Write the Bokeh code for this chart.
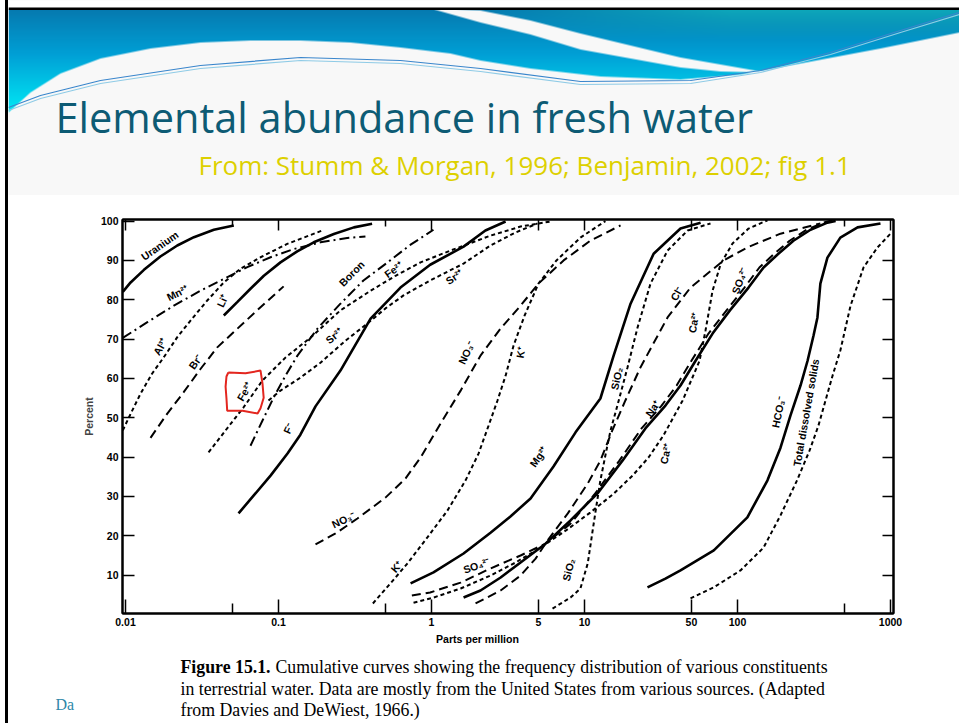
import numpy as np
from bokeh.plotting import figure
from bokeh.layouts import column, row
from bokeh.models import (Range1d, FixedTicker, LinearAxis, LogAxis, CustomJSTickFormatter,
                          Plot, Spacer)
from bokeh.core.properties import value
from bokeh.embed import file_html
from bokeh.resources import INLINE

# ---------------- data (ppm, percent) ----------------
uranium_ppm = [0.0096, 0.0108, 0.0132, 0.0169, 0.0218, 0.028, 0.0378, 0.051]
uranium_pct = [82.0, 84.4, 87.6, 91.0, 93.8, 95.9, 97.8, 98.9]
mn_ppm = [0.0096, 0.0139, 0.0207, 0.0309, 0.0439, 0.0625, 0.0887, 0.126, 0.188, 0.281, 0.370]
mn_pct = [70.3, 74.3, 78.5, 82.3, 85.3, 88.3, 90.8, 92.9, 94.6, 95.7, 96.1]
al_ppm = [0.0096, 0.0108, 0.01253, 0.0149, 0.0178, 0.0218, 0.0266, 0.0342, 0.0439, 0.0565, 0.0763, 0.114, 0.193]
al_pct = [46.8, 51.0, 56.1, 61.2, 65.4, 70.5, 74.7, 79.8, 84.4, 87.9, 90.8, 94.2, 97.6]
li_ppm = [0.0439, 0.0537, 0.0656, 0.0802, 0.103, 0.1325, 0.170, 0.230, 0.311, 0.409]
li_pct = [76.0, 79.4, 82.8, 86.1, 89.5, 92.3, 94.6, 96.7, 98.4, 99.3]
br_ppm = [0.01457, 0.0187, 0.0240, 0.0309, 0.0398, 0.0537, 0.0763, 0.108]
br_pct = [44.9, 51.0, 56.5, 62.4, 67.9, 72.6, 78.1, 83.4]
fe_ppm = [0.0349, 0.0451, 0.059, 0.0786, 0.111, 0.162, 0.254, 0.400, 0.582, 0.848, 1.33, 2.43, 3.82, 6.0]
fe_pct = [41.2, 46.8, 52.6, 59.5, 65.3, 70.4, 77.3, 82.3, 86.1, 89.5, 92.5, 96.3, 98.6, 99.9]
boron_ppm = [0.0656, 0.0786, 0.0928, 0.111, 0.133, 0.180, 0.254, 0.359, 0.516, 0.73, 1.03]
boron_pct = [42.9, 49.3, 55.1, 60.7, 65.8, 72.7, 79.0, 84.9, 89.5, 94.0, 97.8]
sr_ppm = [0.086, 0.103, 0.139, 0.188, 0.274, 0.382, 0.50, 0.656, 0.98, 1.62, 2.43, 3.54, 4.93]
sr_pct = [54.4, 56.9, 60.2, 64.0, 69.6, 74.0, 77.8, 81.1, 84.9, 89.2, 93.8, 97.1, 99.4]
f_ppm = [0.0548, 0.0687, 0.0887, 0.1145, 0.139, 0.1745, 0.254, 0.400, 0.627, 0.98, 1.62, 2.25, 3.05]
f_pct = [25.7, 30.2, 35.3, 40.9, 45.7, 52.9, 62.0, 75.2, 83.1, 88.9, 93.5, 97.6, 99.9]
no3_ppm = [0.1745, 0.236, 0.328, 0.50, 0.677, 0.848, 1.145, 1.55, 2.09, 2.83, 3.82, 5.0, 7.3, 10.9, 17.2]
no3_pct = [17.8, 20.6, 24.4, 29.7, 34.6, 39.9, 48.5, 56.9, 65.8, 72.7, 78.5, 84.1, 90.0, 95.0, 98.9]
k_ppm = [0.414, 0.539, 0.697, 0.94, 1.27, 1.67, 2.03, 2.36, 2.70, 3.05, 3.44, 4.06, 5.0, 6.56, 9.4, 13.7]
k_pct = [2.8, 7.9, 13.0, 19.6, 26.4, 34.1, 40.9, 48.0, 54.4, 60.7, 68.4, 76.0, 84.1, 90.0, 95.8, 100.0]
mg_ppm = [0.73, 1.03, 1.62, 2.43, 3.28, 4.44, 6.27, 8.74, 12.7, 15.5, 20.0, 28.3, 42.4, 57.4]
mg_pct = [7.9, 10.7, 15.5, 20.8, 24.9, 29.5, 37.6, 46.3, 54.9, 65.8, 79.0, 91.7, 98.1, 99.6]
sio2_ppm = [6.18, 8.1, 9.4, 10.5, 11.3, 11.97, 12.7, 13.9, 14.8, 16.4, 19.1, 22.2, 27.0, 34.9, 47.2, 66.6]
sio2_pct = [1.5, 4.3, 6.6, 13.0, 21.3, 27.7, 34.1, 41.7, 46.8, 53.1, 62.8, 72.9, 84.1, 92.5, 97.6, 99.4]
na_ppm = [1.62, 2.09, 2.83, 3.82, 5.56, 8.1, 12.3, 17.7, 25.0, 33.8, 42.4, 53.2, 68.7, 89.2, 118, 148, 185, 232, 300, 387, 438]
na_pct = [4.3, 6.1, 9.4, 13.2, 18.0, 23.9, 31.0, 39.1, 47.3, 53.1, 58.2, 64.5, 71.4, 77.3, 83.1, 88.2, 91.7, 95.0, 97.8, 99.6, 100.0]
so4_ppm = [0.744, 0.98, 1.55, 2.43, 3.82, 5.56, 8.1, 11.6, 16.9, 23.6, 31.9, 40.0, 50.0, 64.6, 84.8, 111, 139, 174, 219, 283, 365, 424]
so4_pct = [4.8, 5.6, 8.1, 11.7, 15.0, 18.0, 23.1, 30.5, 39.1, 47.3, 53.1, 58.2, 64.5, 71.4, 77.3, 83.1, 88.2, 91.7, 95.0, 97.8, 99.6, 100.3]
ca_ppm = [0.763, 1.03, 1.55, 2.43, 3.54, 5.16, 7.52, 10.9, 15.5, 20.6, 26.2, 32.8, 43.8, 56.5, 61.8, 68.7, 77.8, 92.8, 118, 157]
ca_pct = [3.0, 4.3, 6.6, 9.9, 13.2, 17.0, 21.3, 25.9, 30.7, 35.3, 39.9, 45.5, 54.4, 64.5, 72.2, 82.3, 89.2, 94.3, 98.1, 100.2]
cl_ppm = [1.94, 2.83, 3.82, 4.79, 5.73, 7.78, 10.5, 12.7, 15.2, 18.5, 23.2, 34.9, 49.3, 81.1, 116, 191, 348]
cl_pct = [2.8, 6.1, 9.9, 14.2, 18.8, 25.7, 33.3, 39.1, 46.8, 54.4, 62.8, 75.5, 83.1, 90.0, 93.3, 96.8, 99.4]
hco3_ppm = [25.8, 33.8, 42.4, 70.0, 116, 157, 191, 222, 258, 287, 314, 333, 348, 387, 470, 609, 860]
hco3_pct = [6.9, 9.1, 11.2, 16.3, 24.7, 34.1, 42.4, 50.6, 58.2, 64.5, 70.9, 75.5, 84.1, 90.7, 95.8, 98.4, 99.4]
tds_ppm = [49.3, 70.0, 104.6, 148, 191, 245, 296, 338, 376, 418, 470, 548, 666, 822, 1000]
tds_pct = [4.1, 6.9, 11.2, 17.0, 25.2, 34.1, 41.7, 48.0, 54.4, 60.7, 67.1, 78.5, 88.2, 93.3, 96.8]

# hand-drawn red mark around one label
mark_ppm = [0.047, 0.0609, 0.0763, 0.0786, 0.080, 0.0763, 0.073, 0.0582, 0.0462, 0.0457, 0.0451, 0.0457, 0.047]
mark_pct = [61.5, 61.3, 62.0, 58.7, 55.1, 52.4, 51.1, 51.8, 51.8, 54.9, 57.9, 60.5, 61.5]

label_text = ["Uranium", "Mn²⁺", "Al³⁺", "Li⁺", "Br⁻", "Fe²⁺", "Boron", "Fe²⁺", "Sr²⁺", "Sr²⁺",
              "F⁻", "NO₃⁻", "NO₃⁻", "K⁺", "K⁺", "Mg²⁺", "SO₄²⁻", "SiO₂", "SiO₂", "Na⁺",
              "Cl⁻", "Ca²⁺", "Ca²⁺", "SO₄²⁻", "HCO₃⁻", "Total dissolved solids"]
label_ppm = [0.0167, 0.0219, 0.0169, 0.043, 0.0287, 0.060, 0.300, 0.565, 0.231, 1.41,
             0.116, 1.69, 0.266, 3.82, 0.59, 5.0, 1.97, 7.86, 16.2, 27.9,
             40.0, 51.6, 33.8, 103, 185, 280]
label_pct = [93.8, 81.8, 68.1, 79.8, 64.3, 56.7, 86.7, 87.7, 70.9, 85.9,
             47.3, 66.6, 24.1, 66.6, 12.2, 40.2, 12.5, 11.4, 60.0, 52.4,
             81.6, 74.2, 40.9, 84.9, 51.5, 51.3]
label_angle = [35, 27, 60, 65, 55, 60, 45, 35, 40, 35,
               65, 65, 25, 80, 50, 55, 20, 75, 78, 55,
               60, 80, 78, 70, 78, 80]

x_major_ticks = [0.01, 0.1, 1, 5, 10, 50, 100, 1000]
x_minor_ticks = [0.05, 0.5, 500]
y_ticks = [10, 20, 30, 40, 50, 60, 70, 80, 90, 100]
y_right_ticks = [10, 20, 30, 40, 50, 60, 70, 80, 90]

title_text = "Elemental abundance in fresh water"
subtitle_text = "From: Stumm & Morgan, 1996; Benjamin, 2002; fig 1.1"
caption_bold = "Figure 15.1."
caption_lines = ["Cumulative curves showing the frequency distribution of various constituents",
                 "in terrestrial water. Data are mostly from the United States from various sources. (Adapted",
                 "from Davies and DeWiest, 1966.)"]

STYLES = {
    "solid": dict(line_width=2.6),
    "long": dict(line_width=2.0, line_dash="9 5"),
    "short": dict(line_width=2.0, line_dash="4 3"),
    "dashdot": dict(line_width=2.0, line_dash="10 4 2 4"),
}
curves = [
    (uranium_ppm, uranium_pct, "solid"), (mn_ppm, mn_pct, "dashdot"), (al_ppm, al_pct, "short"),
    (li_ppm, li_pct, "solid"), (br_ppm, br_pct, "long"), (fe_ppm, fe_pct, "short"),
    (boron_ppm, boron_pct, "dashdot"), (sr_ppm, sr_pct, "short"), (f_ppm, f_pct, "solid"),
    (no3_ppm, no3_pct, "long"), (k_ppm, k_pct, "short"), (mg_ppm, mg_pct, "solid"),
    (sio2_ppm, sio2_pct, "short"), (na_ppm, na_pct, "solid"), (so4_ppm, so4_pct, "long"),
    (ca_ppm, ca_pct, "short"), (cl_ppm, cl_pct, "long"), (hco3_ppm, hco3_pct, "solid"),
    (tds_ppm, tds_pct, "short"),
]

FA = {"frame_align": False} if "frame_align" in Plot.properties() else {}
W = 951          # slide area: page x 8..959
SLIDE_BG = "#f8f8f8"

# ---------------- header (banner + titles), page-pixel coordinates ----------------
H1 = 195
h = figure(width=W, height=H1, x_range=Range1d(8, 959), y_range=Range1d(-195, 0),
           output_backend="svg", toolbar_location=None, x_axis_location=None, y_axis_location=None,
           min_border=0, outline_line_color=None, background_fill_color=SLIDE_BG,
           border_fill_color=SLIDE_BG, **FA)
h.grid.visible = False

bx = [8, 30, 60, 100, 150, 200, 250, 300, 350, 400, 450, 480, 530, 600, 680, 740, 800, 880, 959]
by = [112, 92, 73, 58, 48, 42, 40, 40, 42, 47, 53, 60, 68, 76, 79, 74, 63, 48, 32]
sx = [430, 480, 530, 580, 630, 680, 720, 760]
su = [8, 10, 20, 33, 45, 57, 64, 71]
sl = [8, 22, 34, 49, 58, 67, 71, 72]
ys = 195 - (np.arange(H1) + 0.5)
xs = 8 + np.arange(W) + 0.5
X, Y = np.meshgrid(xs, ys)
Bnd = np.interp(X, bx, by)
alpha = np.clip(Bnd - Y + 0.5, 0, 1) * (Y > 9)
t = np.clip((Y - 9) / 100.0, 0, 1)
c0 = np.array([6, 122, 176.0]); c1 = np.array([0, 160, 214.0]); c2 = np.array([0, 230, 244.0])
tt = t[..., None]
col = np.where(tt < 0.45, c0 + (c1 - c0) * (tt / 0.45), c1 + (c2 - c1) * ((tt - 0.45) / 0.55))
s = (np.clip((X - 480) / 250.0, 0, 1) * np.clip(1 - (Y - 9) / 30.0, 0, 1))[..., None]
col = col * (1 - s) + np.array([14, 168, 186.0]) * s
U = np.interp(X, sx, su); Lw = np.interp(X, sx, sl)
w = np.clip(np.minimum(Y - U + 0.5, Lw - Y + 0.5), 0, 1)
w = np.where((X >= 430) & (X <= 760), w, 0)[..., None]
col = col * (1 - w) + np.array([248, 248, 248.0]) * w
img = np.empty((H1, W), dtype=np.uint32)
v = img.view(dtype=np.uint8).reshape((H1, W, 4))
v[..., 0] = col[..., 0].astype(np.uint8)
v[..., 1] = col[..., 1].astype(np.uint8)
v[..., 2] = col[..., 2].astype(np.uint8)
v[..., 3] = (alpha * 255).astype(np.uint8)
h.image_rgba(image=[img], x=8, y=-195, dw=W, dh=H1)

# slide top edge: white page strip and black border line
h.quad(left=[8, 8], right=[959, 959], bottom=[-7, -9.5], top=[0, -7],
       fill_color=["white", "black"], line_color=None)

sw_x = [8, 40, 100, 200, 300, 400, 480, 580, 690, 760, 830, 900, 959]
sw_y1 = [107, 95, 80, 65, 57, 60, 68, 81, 80, 70, 52, 30, 12]
sw_y2 = [110, 98, 83, 68, 60, 63, 71, 84, 83, 72, 54, 32, 14]
h.line(sw_x, [-y for y in sw_y1], line_color="#3a86cc", line_width=1.2)
h.line(sw_x, [-y for y in sw_y2], line_color="#8fcbe6", line_width=1.2)

h.text(x=[55], y=[-116.5], text=[title_text], text_font=value("Open Sans"), text_font_size="41.5px",
       text_color="#0d5b74", text_baseline="alphabetic", text_align="left")
h.text(x=[198], y=[-164], text=[subtitle_text], text_font=value("Open Sans"), text_font_size="26px",
       text_color="#ddd000", text_baseline="alphabetic", text_align="left")

# ---------------- chart ----------------
p = figure(width=W, height=438, x_axis_type="log",
           x_range=Range1d(0.009558, 1046), y_range=Range1d(0.25, 100.4),
           output_backend="svg", toolbar_location=None,
           min_border_left=114, min_border_right=66, min_border_top=24, min_border_bottom=20,
           background_fill_color="white", border_fill_color="white",
           outline_line_color="black", outline_line_width=2, **FA)
p.xgrid.visible = False
p.ygrid.visible = False

def style_axis(ax, labels=True):
    ax.axis_line_width = 2
    ax.axis_line_color = "black"
    ax.major_tick_line_width = 1.5
    ax.minor_tick_line_width = 1.5
    ax.major_tick_out = 0
    ax.minor_tick_out = 0
    ax.major_label_text_font = "Liberation Sans"
    ax.major_label_text_font_style = "bold"
    ax.major_label_text_font_size = "10.5px"
    ax.major_label_text_color = "black"
    ax.major_label_standoff = 4
    if not labels:
        ax.formatter = CustomJSTickFormatter(code="return '';")

xa = p.xaxis[0]
xa.ticker = FixedTicker(ticks=x_major_ticks, minor_ticks=x_minor_ticks)
xa.formatter = CustomJSTickFormatter(code="return tick.toString();")
style_axis(xa)
xa.major_tick_in = 14
xa.minor_tick_in = 10

xt = LogAxis(ticker=FixedTicker(ticks=x_major_ticks, minor_ticks=x_minor_ticks))
style_axis(xt, labels=False)
xt.major_tick_in = 11
xt.minor_tick_in = 7
p.add_layout(xt, "above")

ya = p.yaxis[0]
ya.ticker = FixedTicker(ticks=y_ticks, minor_ticks=[])
style_axis(ya)
ya.major_tick_in = 12
ya.minor_tick_in = 0
ya.axis_label = "Percent"
ya.axis_label_text_font = "Liberation Sans"
ya.axis_label_text_font_style = "bold"
ya.axis_label_text_font_size = "10.5px"
ya.axis_label_standoff = 3

yr = LinearAxis(ticker=FixedTicker(ticks=y_right_ticks, minor_ticks=[]))
style_axis(yr, labels=False)
yr.major_tick_in = 11
yr.minor_tick_in = 0
p.add_layout(yr, "right")

for xs_, ys_, st in curves:
    p.line(xs_, ys_, line_color="black", line_cap="butt", **STYLES[st])

p.line(mark_ppm, mark_pct, line_color="#e3261f", line_width=2)

p.text(x=label_ppm, y=label_pct, text=label_text, angle=label_angle, angle_units="deg",
       text_align="center", text_baseline="middle", text_font=value("Liberation Sans"),
       text_font_style="bold", text_font_size="10.5px", text_color="black")

# ---------------- footer (axis title + caption), page-pixel coordinates ----------------
f = figure(width=W, height=90, x_range=Range1d(8, 959), y_range=Range1d(-723, -633),
           output_backend="svg", toolbar_location=None, x_axis_location=None, y_axis_location=None,
           min_border=0, outline_line_color=None, background_fill_color="white",
           border_fill_color="white", **FA)
f.grid.visible = False
f.text(x=[477], y=[-638.5], text=["Parts per million"], text_font=value("Liberation Sans"),
       text_font_style="bold", text_font_size="10.6px", text_align="center", text_baseline="middle",
       text_color="black")
f.text(x=[180], y=[-666], text=[caption_bold], text_font=value("Liberation Serif"),
       text_font_style="bold", text_font_size="17.8px", text_baseline="alphabetic", text_color="black")
f.text(x=[275], y=[-666], text=[caption_lines[0]], text_font=value("Liberation Serif"),
       text_font_size="17.8px", text_baseline="alphabetic", text_color="black")
f.text(x=[180, 180], y=[-688, -709], text=caption_lines[1:], text_font=value("Liberation Serif"),
       text_font_size="17.8px", text_baseline="alphabetic", text_color="black")
f.text(x=[55], y=[-704], text=["Da"], text_font=value("Liberation Serif"), text_font_size="16px",
       text_baseline="alphabetic", text_color="#2f88a8")

if FA:
    body = column(h, p, f, spacing=0)
else:
    body = column(column(h), column(p), column(f), spacing=0)

edge_white = Spacer(width=5, height=723, margin=0)
edge_black = Spacer(width=3, height=723, margin=0, styles={"background-color": "black"})
layout = row(edge_white, edge_black, body, spacing=0)
open("out.html", "w").write(file_html(layout, INLINE))
